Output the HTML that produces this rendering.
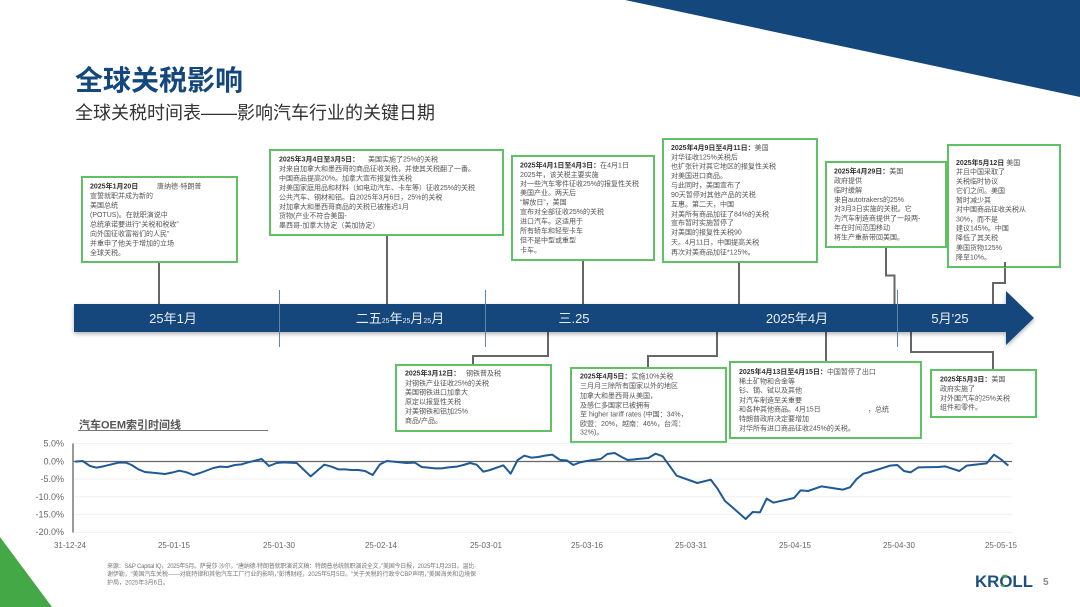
<!DOCTYPE html>
<html><head><meta charset="utf-8"><style>
html,body{margin:0;padding:0;background:#fff}
svg{display:block}
text{font-family:"Liberation Sans","Noto Sans CJK SC",sans-serif}
.t{font-size:7px;fill:#555}
.t .b,.b{font-weight:700;fill:#333}
.box{fill:#fff;stroke:#5fc064;stroke-width:2}
.c{fill:none;stroke:#666;stroke-width:2}
.tick{stroke:#5f84ab;stroke-width:1}
.grid{stroke:#f2f2f2;stroke-width:1.2}
.yl{font-size:9px;fill:#666;text-anchor:end}
.xl{font-size:8px;fill:#666;text-anchor:middle}
.m{font-size:13px;fill:#e8eef5;text-anchor:middle}
.f{font-size:6px;fill:#777}
</style></head><body>
<svg width="1080" height="607" viewBox="0 0 1080 607" xmlns="http://www.w3.org/2000/svg">
<defs><filter id="s" x="-2%" y="-20%" width="104%" height="150%"><feDropShadow dx="0" dy="2" stdDeviation="2" flood-color="#000" flood-opacity=".3"/></filter>
<filter id="bl" x="0" y="0" width="100%" height="100%"><feGaussianBlur stdDeviation="0.3"/></filter></defs>
<polygon points="625,0 1080,97 1080,0" fill="#14477c"/>
<polygon points="0,537 52,607 0,607" fill="#43a845"/>
<text x="75" y="90" font-size="28" font-weight="700" fill="#14477c">全球关税影响</text>
<text x="75" y="119" font-size="18" fill="#333">全球关税时间表——影响汽车行业的关键日期</text>

<path class="c" d="M159 262V304M387 235V304M583 260V304M739 262V304M886 247V275.5H894.5V304M1005 262V283H993V304"/>
<path class="c" d="M548 332V356H473V365M717 332V356H648V368M826 332V362M911 332V352H993V370"/>

<polygon filter="url(#s)" points="74,304 1006,304 1006,291 1034,318 1006,345 1006,332 74,332" fill="#14477c"/>
<line class="tick" x1="279.5" y1="290" x2="279.5" y2="347"/>
<line class="tick" x1="485.5" y1="290" x2="485.5" y2="347"/>
<line class="tick" x1="897.5" y1="290" x2="897.5" y2="347"/>
<text class="m" x="173" y="323">25年1月</text>
<text class="m" x="400" y="323">二五<tspan font-size="7">25</tspan>年<tspan font-size="7">25</tspan>月<tspan font-size="7">25</tspan>月</text>
<text class="m" x="574" y="323">三.25</text>
<text class="m" x="797" y="323">2025年4月</text>
<text class="m" x="950" y="323">5月'25</text>

<rect class="box" x="82" y="177" width="155" height="85"/>
<rect class="box" x="270" y="150" width="233" height="85"/>
<rect class="box" x="512" y="156" width="142" height="104"/>
<rect class="box" x="663" y="139" width="154" height="123"/>
<rect class="box" x="826" y="162" width="120" height="85"/>
<rect class="box" x="948" y="145" width="112" height="122"/>
<rect class="box" x="396" y="365" width="155" height="66"/>
<rect class="box" x="571" y="368" width="155" height="74"/>
<rect class="box" x="730" y="362" width="191" height="76"/>
<rect class="box" x="931" y="370" width="105" height="47"/>
<path class="c" d="M1005 262V267" />

<g class="t" filter="url(#bl)">
<text class="t" x="90" y="188.5"><tspan class="b">2025年1月20日</tspan></text><text class="t" x="157" y="188.5">唐纳德·特朗普</text>
<text class="t" x="90" y="198">宣誓就职并成为新的</text>
<text class="t" x="90" y="207.5">美国总统</text>
<text class="t" x="90" y="217">(POTUS)。在就职演说中</text>
<text class="t" x="90" y="226.5">总统承诺要进行“关税和税收”</text>
<text class="t" x="90" y="236">向外国征收富裕们的人民”</text>
<text class="t" x="90" y="245.5">并重申了他关于增加的立场</text>
<text class="t" x="90" y="255">全球关税。</text>

<text class="t" x="279" y="161.5"><tspan class="b">2025年3月4日至3月5日：</tspan></text><text class="t" x="368" y="161.5">美国实施了25%的关税</text>
<text class="t" x="279" y="171">对来自加拿大和墨西哥的商品征收关税，并使其关税翻了一番。</text>
<text class="t" x="279" y="180.5">中国商品提高20%。加拿大宣布报复性关税</text>
<text class="t" x="279" y="190">对美国家庭用品和材料（如电动汽车、卡车等）征收25%的关税</text>
<text class="t" x="279" y="199.5">公共汽车、钢材和铝。自2025年3月6日，25%的关税</text>
<text class="t" x="279" y="209">对加拿大和墨西哥商品的关税已被推迟1月</text>
<text class="t" x="279" y="218">货物(产业不符合美国-</text>
<text class="t" x="279" y="227.5">墨西哥-加拿大协定（美加协定）</text>

<text class="t" x="520" y="167.5"><tspan class="b">2025年4月1日至4月3日：</tspan>在4月1日</text>
<text class="t" x="520" y="177">2025年，该关税主要实施</text>
<text class="t" x="520" y="186">对一些汽车零件征收25%的报复性关税</text>
<text class="t" x="520" y="195">美国产业。两天后</text>
<text class="t" x="520" y="204.5">“解放日”，美国</text>
<text class="t" x="520" y="214">宣布对全部征收25%的关税</text>
<text class="t" x="520" y="223.5">进口汽车。这适用于</text>
<text class="t" x="520" y="233">所有轿车和轻型卡车</text>
<text class="t" x="520" y="242.5">但不是中型或重型</text>
<text class="t" x="520" y="252.5">卡车。</text>

<text class="t" x="671" y="150"><tspan class="b">2025年4月9日至4月11日：</tspan>美国</text>
<text class="t" x="671" y="159.5">对华征收125%关税后</text>
<text class="t" x="671" y="168.5">也扩张针对其它地区的报复性关税</text>
<text class="t" x="671" y="178">对美国进口商品。</text>
<text class="t" x="671" y="187.5">与此同时，美国宣布了</text>
<text class="t" x="671" y="197">90天暂停对其他产品的关税</text>
<text class="t" x="671" y="206.5">互惠。第二天，中国</text>
<text class="t" x="671" y="216.5">对美所有商品加征了84%的关税</text>
<text class="t" x="671" y="225">宣布暂时实施暂停了</text>
<text class="t" x="671" y="234.5">对美国的报复性关税90</text>
<text class="t" x="671" y="244.5">天。4月11日，中国提高关税</text>
<text class="t" x="671" y="254.5">再次对美商品加征*125%。</text>

<text class="t" x="834" y="173.5"><tspan class="b">2025年4月29日：</tspan>美国</text>
<text class="t" x="834" y="183">政府提供</text>
<text class="t" x="834" y="192.5">临时缓解</text>
<text class="t" x="834" y="202">来自autotrakers的25%</text>
<text class="t" x="834" y="211">对3月3日实施的关税。它</text>
<text class="t" x="834" y="220.5">为汽车制造商提供了一段两-</text>
<text class="t" x="834" y="230">年在时间范围移动</text>
<text class="t" x="834" y="239.5">将生产重新带回美国。</text>

<text class="t" x="956" y="165"><tspan class="b">2025年5月12日</tspan>  美国</text>
<text class="t" x="956" y="174">并且中国采取了</text>
<text class="t" x="956" y="183.5">关税临时协议</text>
<text class="t" x="956" y="193">它们之间。美国</text>
<text class="t" x="956" y="202.5">暂时减少其</text>
<text class="t" x="956" y="211.5">对中国商品征收关税从</text>
<text class="t" x="956" y="221.5">30%，而不是</text>
<text class="t" x="956" y="230.5">建议145%。中国</text>
<text class="t" x="956" y="240">降低了其关税</text>
<text class="t" x="956" y="250">美国货物125%</text>
<text class="t" x="956" y="259.5">降至10%。</text>

<text class="t" x="405" y="375.5"><tspan class="b">2025年3月12日：</tspan></text><text class="t" x="466" y="375.5">钢铁普及税</text>
<text class="t" x="405" y="385.5">对钢铁产业征收25%的关税</text>
<text class="t" x="405" y="394.5">美国钢铁进口加拿大</text>
<text class="t" x="405" y="404">原定以报复性关税</text>
<text class="t" x="405" y="413.5">对美钢铁和铝加25%</text>
<text class="t" x="405" y="423">商品/产品。</text>

<text class="t" x="580" y="378.5"><tspan class="b">2025年4月5日：</tspan>实施10%关税</text>
<text class="t" x="580" y="388">三月月三除所有国家以外的地区</text>
<text class="t" x="580" y="398">加拿大和墨西哥从美国，</text>
<text class="t" x="580" y="407.5">及感仁多国家已被拥有</text>
<text class="t" x="580" y="416.5">至 higher tariff rates (中国：34%，</text>
<text class="t" x="580" y="426">欧盟：20%，越南：46%，台湾：</text>
<text class="t" x="580" y="434.5">32%)。</text>

<text class="t" x="739" y="374"><tspan class="b">2025年4月13日至4月15日：</tspan>中国暂停了出口</text>
<text class="t" x="739" y="383.5">稀土矿物和合金等</text>
<text class="t" x="739" y="392.5">钐、镝、铽以及其他</text>
<text class="t" x="739" y="402.5">对汽车制造至关重要</text>
<text class="t" x="739" y="411.5">和各种其他商品。4月15日</text><text class="t" x="868" y="411.5">，总统</text>
<text class="t" x="739" y="421">特朗普政府决定要增加</text>
<text class="t" x="739" y="430.5">对华所有进口商品征收245%的关税。</text>

<text class="t" x="940" y="381.5"><tspan class="b">2025年5月3日：</tspan>美国</text>
<text class="t" x="940" y="391">政府实施了</text>
<text class="t" x="940" y="400.5">对外国汽车的25%关税</text>
<text class="t" x="940" y="409.5">组件和零件。</text>
</g>

<text x="79" y="428.5" font-size="11" font-weight="700" fill="#555">汽车OEM索引时间线</text>
<line x1="78" y1="430.5" x2="268" y2="430.5" stroke="#777" stroke-width="1"/>

<g>
<line class="grid" x1="73" y1="443.5" x2="1012" y2="443.5"/>
<line class="grid" x1="73" y1="479" x2="1012" y2="479"/>
<line class="grid" x1="73" y1="496.8" x2="1012" y2="496.8"/>
<line class="grid" x1="73" y1="514.5" x2="1012" y2="514.5"/>
<line class="grid" x1="73" y1="532.5" x2="1012" y2="532.5"/>
<line x1="73" y1="461.5" x2="1012" y2="461.5" stroke="#666" stroke-width="1.2"/>
<path d="M73 443.5V532.5" stroke="#777" stroke-width="1.5" fill="none"/>
</g>
<text class="yl" x="64" y="446.5">5.0%</text>
<text class="yl" x="64" y="464.5">0.0%</text>
<text class="yl" x="64" y="482">-5.0%</text>
<text class="yl" x="64" y="500">-10.0%</text>
<text class="yl" x="64" y="517.5">-15.0%</text>
<text class="yl" x="64" y="535">-20.0%</text>

<g fill="none" stroke="#1f5a94" stroke-width="6" stroke-linejoin="round">
<polyline transform="translate(40,415) scale(.33333)" points="105,140 128,138 150,153 170,158 190,154 215,148 235,143 258,143 275,150 295,163 315,171 335,173 375,177 395,173 418,167 440,172 460,180 480,174 520,159 540,155 562,156 585,150 605,148 625,142 665,132 687,153 710,144 730,142 770,144 812,184 853,149 875,155 895,163 915,163 935,165 955,165 975,168 998,180 1020,148 1040,138 1060,140 1100,144 1125,143 1145,156 1165,158 1185,160 1205,160 1225,157 1250,155 1270,150 1290,144 1310,149 1330,170 1350,165 1390,151 1412,176 1433,135 1453,122 1475,128 1495,126 1515,122 1537,119 1560,135"/>
<polyline transform="translate(540,435) scale(.33333)" points="60,75 80,76 100,90 120,82 140,78 182,72 202,57 224,54 245,66 263,75 325,69 347,56 368,64 410,122 472,144 512,134 532,160 555,198 575,215 617,252 638,231 660,232 680,191 700,203 762,189 782,166 804,168 845,154 908,164 930,157 950,132 970,116 990,111 1050,92 1072,90 1092,108 1112,112 1135,97 1195,96 1215,94 1258,108 1280,92 1340,85 1362,59 1383,73 1405,92"/>
</g>
<text class="xl" x="70" y="548">31-12-24</text>
<text class="xl" x="174" y="548">25-01-15</text>
<text class="xl" x="279" y="548">25-01-30</text>
<text class="xl" x="381" y="548">25-02-14</text>
<text class="xl" x="486" y="548">25-03-01</text>
<text class="xl" x="587" y="548">25-03-16</text>
<text class="xl" x="691" y="548">25-03-31</text>
<text class="xl" x="795" y="548">25-04-15</text>
<text class="xl" x="899" y="548">25-04-30</text>
<text class="xl" x="1001" y="548">25-05-15</text>

<g filter="url(#bl)">
<text class="f" x="107" y="568" textLength="369" lengthAdjust="spacing">来源：S&amp;P Capital IQ，2025年5月。萨曼莎·沙尔，“唐纳德·特朗普就职演说文稿：特朗普总统就职演说全文，”美国今日报，2025年1月23日。温比·</text>
<text class="f" x="107" y="576" textLength="369" lengthAdjust="spacing">谢伊勒，“美国汽车关税——对底特律和其他汽车工厂行业的影响，”彭博财经，2025年5月5日。“关于关税的行政令CBP声明，”美国海关和边境保</text>
<text class="f" x="107" y="584.5">护局，2025年3月6日。</text>
</g>

<text x="975" y="587" font-size="17" font-weight="700" fill="#1d4f85" textLength="58" lengthAdjust="spacingAndGlyphs">KROLL</text>
<path d="M1002 577a5 5 0 0 1 5-1" stroke="#43a845" stroke-width="2" fill="none"/>
<path d="M1001 585a5 5 0 0 0 4 1" stroke="#43a845" stroke-width="2" fill="none"/>
<text x="1043" y="585" font-size="10" font-weight="700" fill="#888">5</text>
</svg>
</body></html>
